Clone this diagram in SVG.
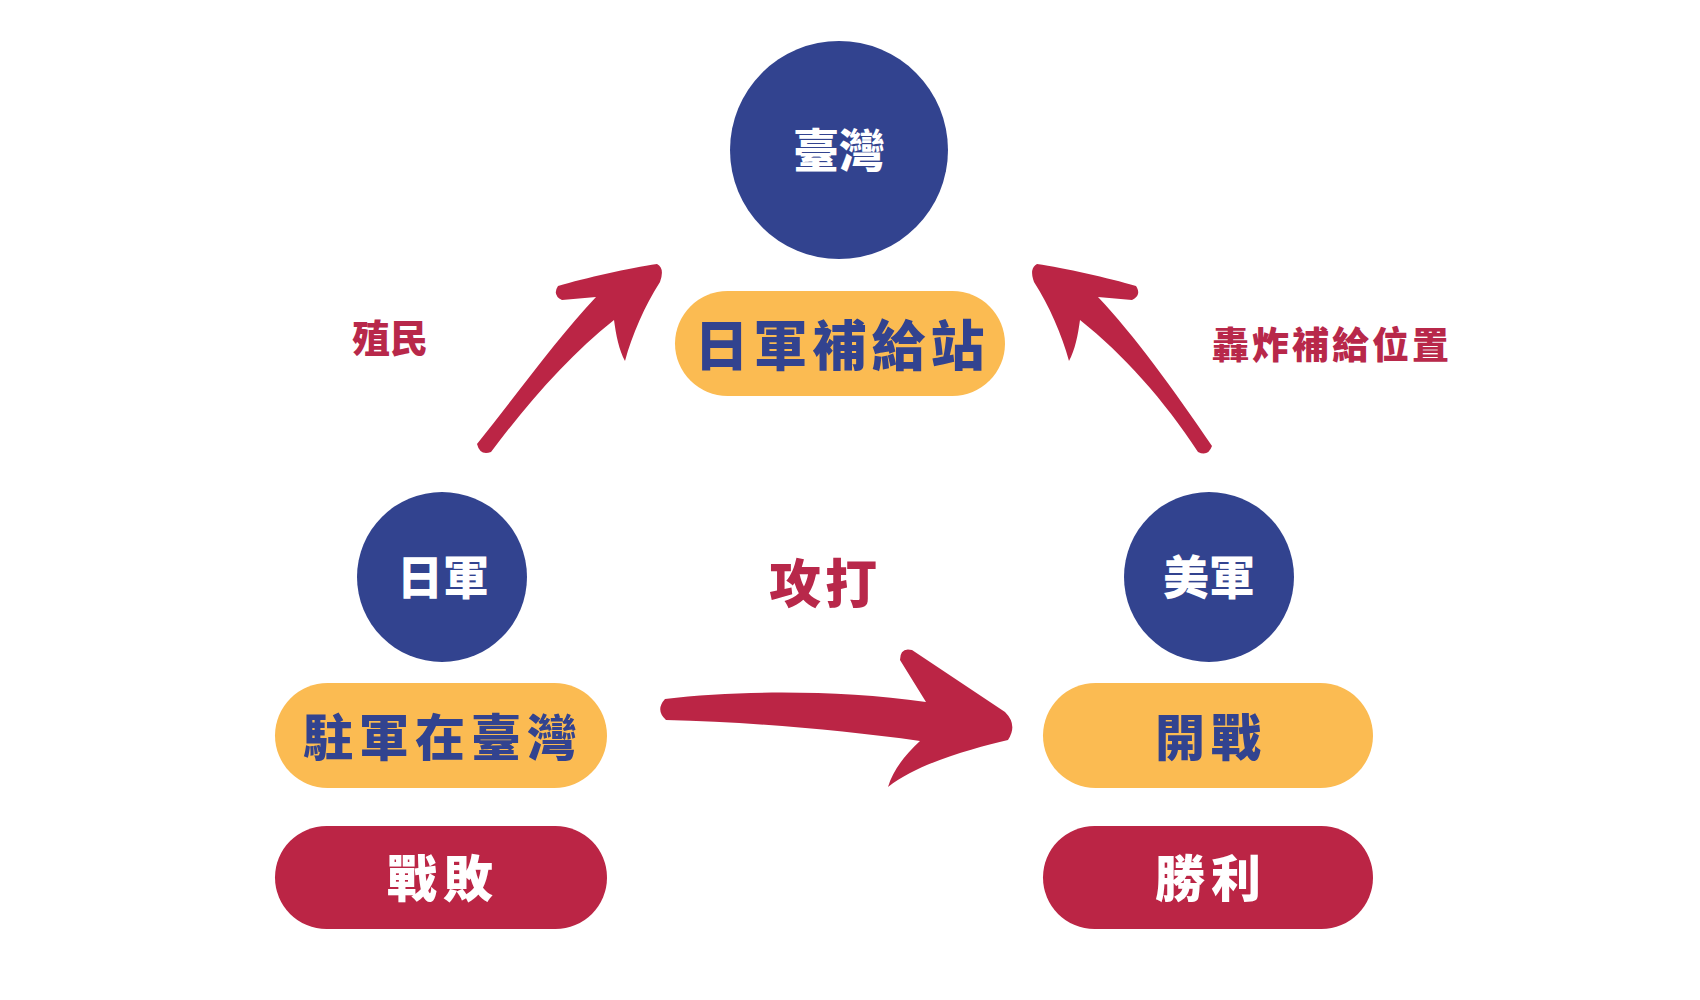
<svg xmlns="http://www.w3.org/2000/svg" width="1700" height="1000" viewBox="0 0 1700 1000">
<style>
  .circ { fill: #32438f; }
  .pill-o { fill: #fbbb52; }
  .pill-r { fill: #bb2545; }
  .arrow { fill: #bb2545; }
  text { font-family: "Noto Sans CJK TC", "Noto Sans CJK SC", sans-serif; font-weight: 900; text-anchor: middle; }
  .wt { fill: #ffffff; }
  .bt { fill: #32438f; }
  .rt { fill: #b8284a; }
</style>
<rect width="1700" height="1000" fill="#ffffff"/>

<g id="connectors">
  <path id="arrow-colonize" class="arrow" d="M657,264 C 630,268 585,278 558,286 Q552,295 562,300 L 596,297 C 560,335 520,390 477,444 Q480,456 491,452 C 530,400 570,355 614,320 C 616,335 619,350 625,361 C 632,335 645,305 660,282 Q665,268 657,264 Z"/>
  <path id="arrow-bomb" class="arrow" transform="translate(1694,0) scale(-1,1)" d="M657,264 C 630,268 585,278 558,286 Q552,295 562,300 L 596,297 C 560,335 520,390 482,446 Q486,457 496,452 C 530,400 570,355 614,320 C 616,335 619,350 625,361 C 632,335 645,305 660,282 Q665,268 657,264 Z"/>
  <path id="arrow-attack" class="arrow" d="M665,699 C 740,690 840,690 926,702 L 900,660 Q900,647 912,650 L 1005,712 Q1018,725 1008,740 C 975,748 920,762 888,787 C 893,770 905,755 920,741 C 840,730 750,722 666,720 Q 655,710 665,699 Z"/>
  <text class="rt" x="390" y="352" font-size="38">殖民</text>
  <text class="rt" x="1332" y="359" font-size="37" letter-spacing="3">轟炸補給位置</text>
  <text class="rt" x="825" y="603" font-size="52" letter-spacing="4">攻打</text>
</g>

<g id="taiwan">
  <circle class="circ" cx="839" cy="150" r="109"/>
  <text class="wt" x="839" y="167" font-size="46">臺灣</text>
</g>
<g id="supply">
  <rect class="pill-o" x="675" y="291" width="330" height="105" rx="52.5"/>
  <text class="bt" x="842" y="366" font-size="54" letter-spacing="5">日軍補給站</text>
</g>

<g id="japan">
  <circle class="circ" cx="442" cy="577" r="85"/>
  <text class="wt" x="443" y="594" font-size="46">日軍</text>
</g>
<g id="stationed">
  <rect class="pill-o" x="275" y="683" width="332" height="105" rx="52.5"/>
  <text class="bt" x="443" y="756" font-size="50" letter-spacing="6">駐軍在臺灣</text>
</g>
<g id="defeat">
  <rect class="pill-r" x="275" y="826" width="332" height="103" rx="51.5"/>
  <text class="wt" x="443" y="897" font-size="50" letter-spacing="6">戰敗</text>
</g>

<g id="usa">
  <circle class="circ" cx="1209" cy="577" r="85"/>
  <text class="wt" x="1209" y="594" font-size="46">美軍</text>
</g>
<g id="war">
  <rect class="pill-o" x="1043" y="683" width="330" height="105" rx="52.5"/>
  <text class="bt" x="1211" y="756" font-size="50" letter-spacing="6">開戰</text>
</g>
<g id="victory">
  <rect class="pill-r" x="1043" y="826" width="330" height="103" rx="51.5"/>
  <text class="wt" x="1211" y="897" font-size="50" letter-spacing="6">勝利</text>
</g>
</svg>
